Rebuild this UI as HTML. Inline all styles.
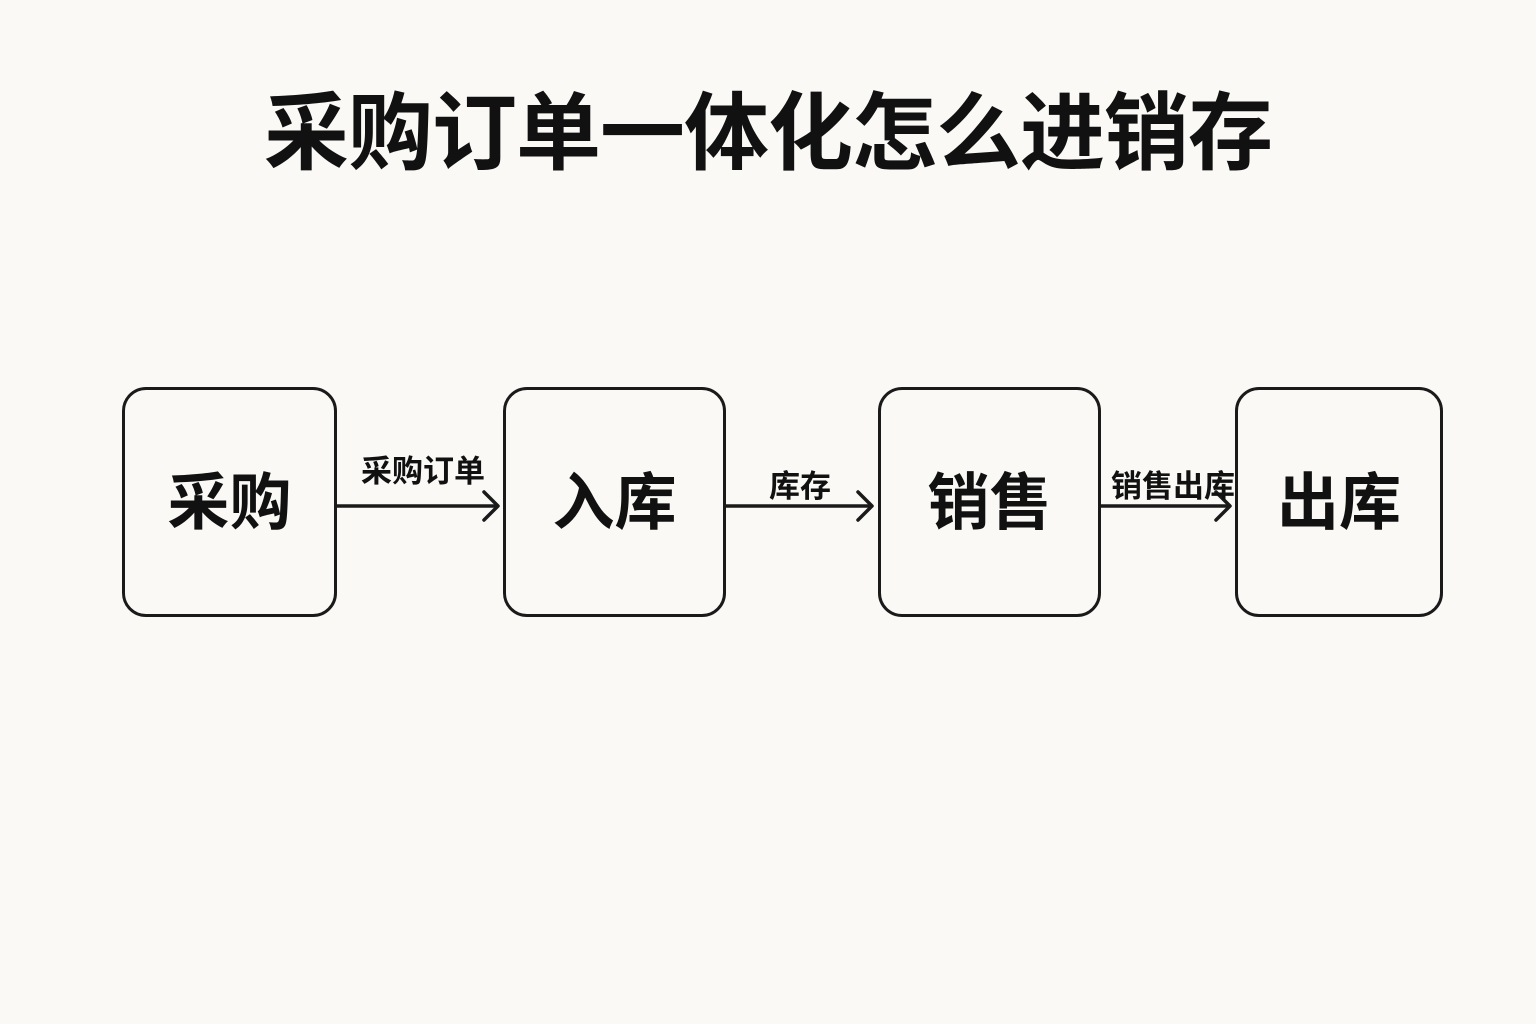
<!DOCTYPE html>
<html><head><meta charset="utf-8">
<style>
html,body{margin:0;padding:0;}
body{width:1536px;height:1024px;background:#faf9f6;position:relative;overflow:hidden;font-family:"Liberation Sans","Noto Sans CJK SC",sans-serif;color:#111;}
.title{position:absolute;left:0;width:1536px;top:80px;text-align:center;font-size:85px;font-weight:bold;line-height:110px;letter-spacing:-1px;}
.box{position:absolute;top:387px;height:224px;border:3px solid #1a1a1a;border-radius:24px;box-sizing:content-box;display:flex;align-items:center;justify-content:center;font-size:62px;font-weight:bold;padding-bottom:0;}
.box span{position:relative;top:-5px;}
.lbl{position:absolute;font-size:31px;font-weight:bold;line-height:34px;white-space:nowrap;}
</style></head><body>
<div class="title">采购订单一体化怎么进销存</div>
<div class="box" style="left:122px;width:209px;"><span>采购</span></div>
<div class="box" style="left:503px;width:217px;"><span>入库</span></div>
<div class="box" style="left:878px;width:217px;"><span>销售</span></div>
<div class="box" style="left:1235px;width:202px;"><span>出库</span></div>
<svg width="1536" height="1024" style="position:absolute;left:0;top:0">
<g stroke="#1a1a1a" stroke-width="3.5" fill="none" stroke-linecap="round" stroke-linejoin="round">
<line x1="337" y1="506" x2="497" y2="506"/><polyline points="484,492 498,506 484,520"/>
<line x1="726" y1="506" x2="871" y2="506"/><polyline points="858,492 872,506 858,520"/>
<line x1="1101" y1="506" x2="1229" y2="506"/><polyline points="1216,492 1230,506 1216,520"/>
</g></svg>
<div class="lbl" style="left:361px;top:455px;">采购订单</div>
<div class="lbl" style="left:769px;top:470px;">库存</div>
<div class="lbl" style="left:1111px;top:470px;">销售出库</div>
</body></html>
